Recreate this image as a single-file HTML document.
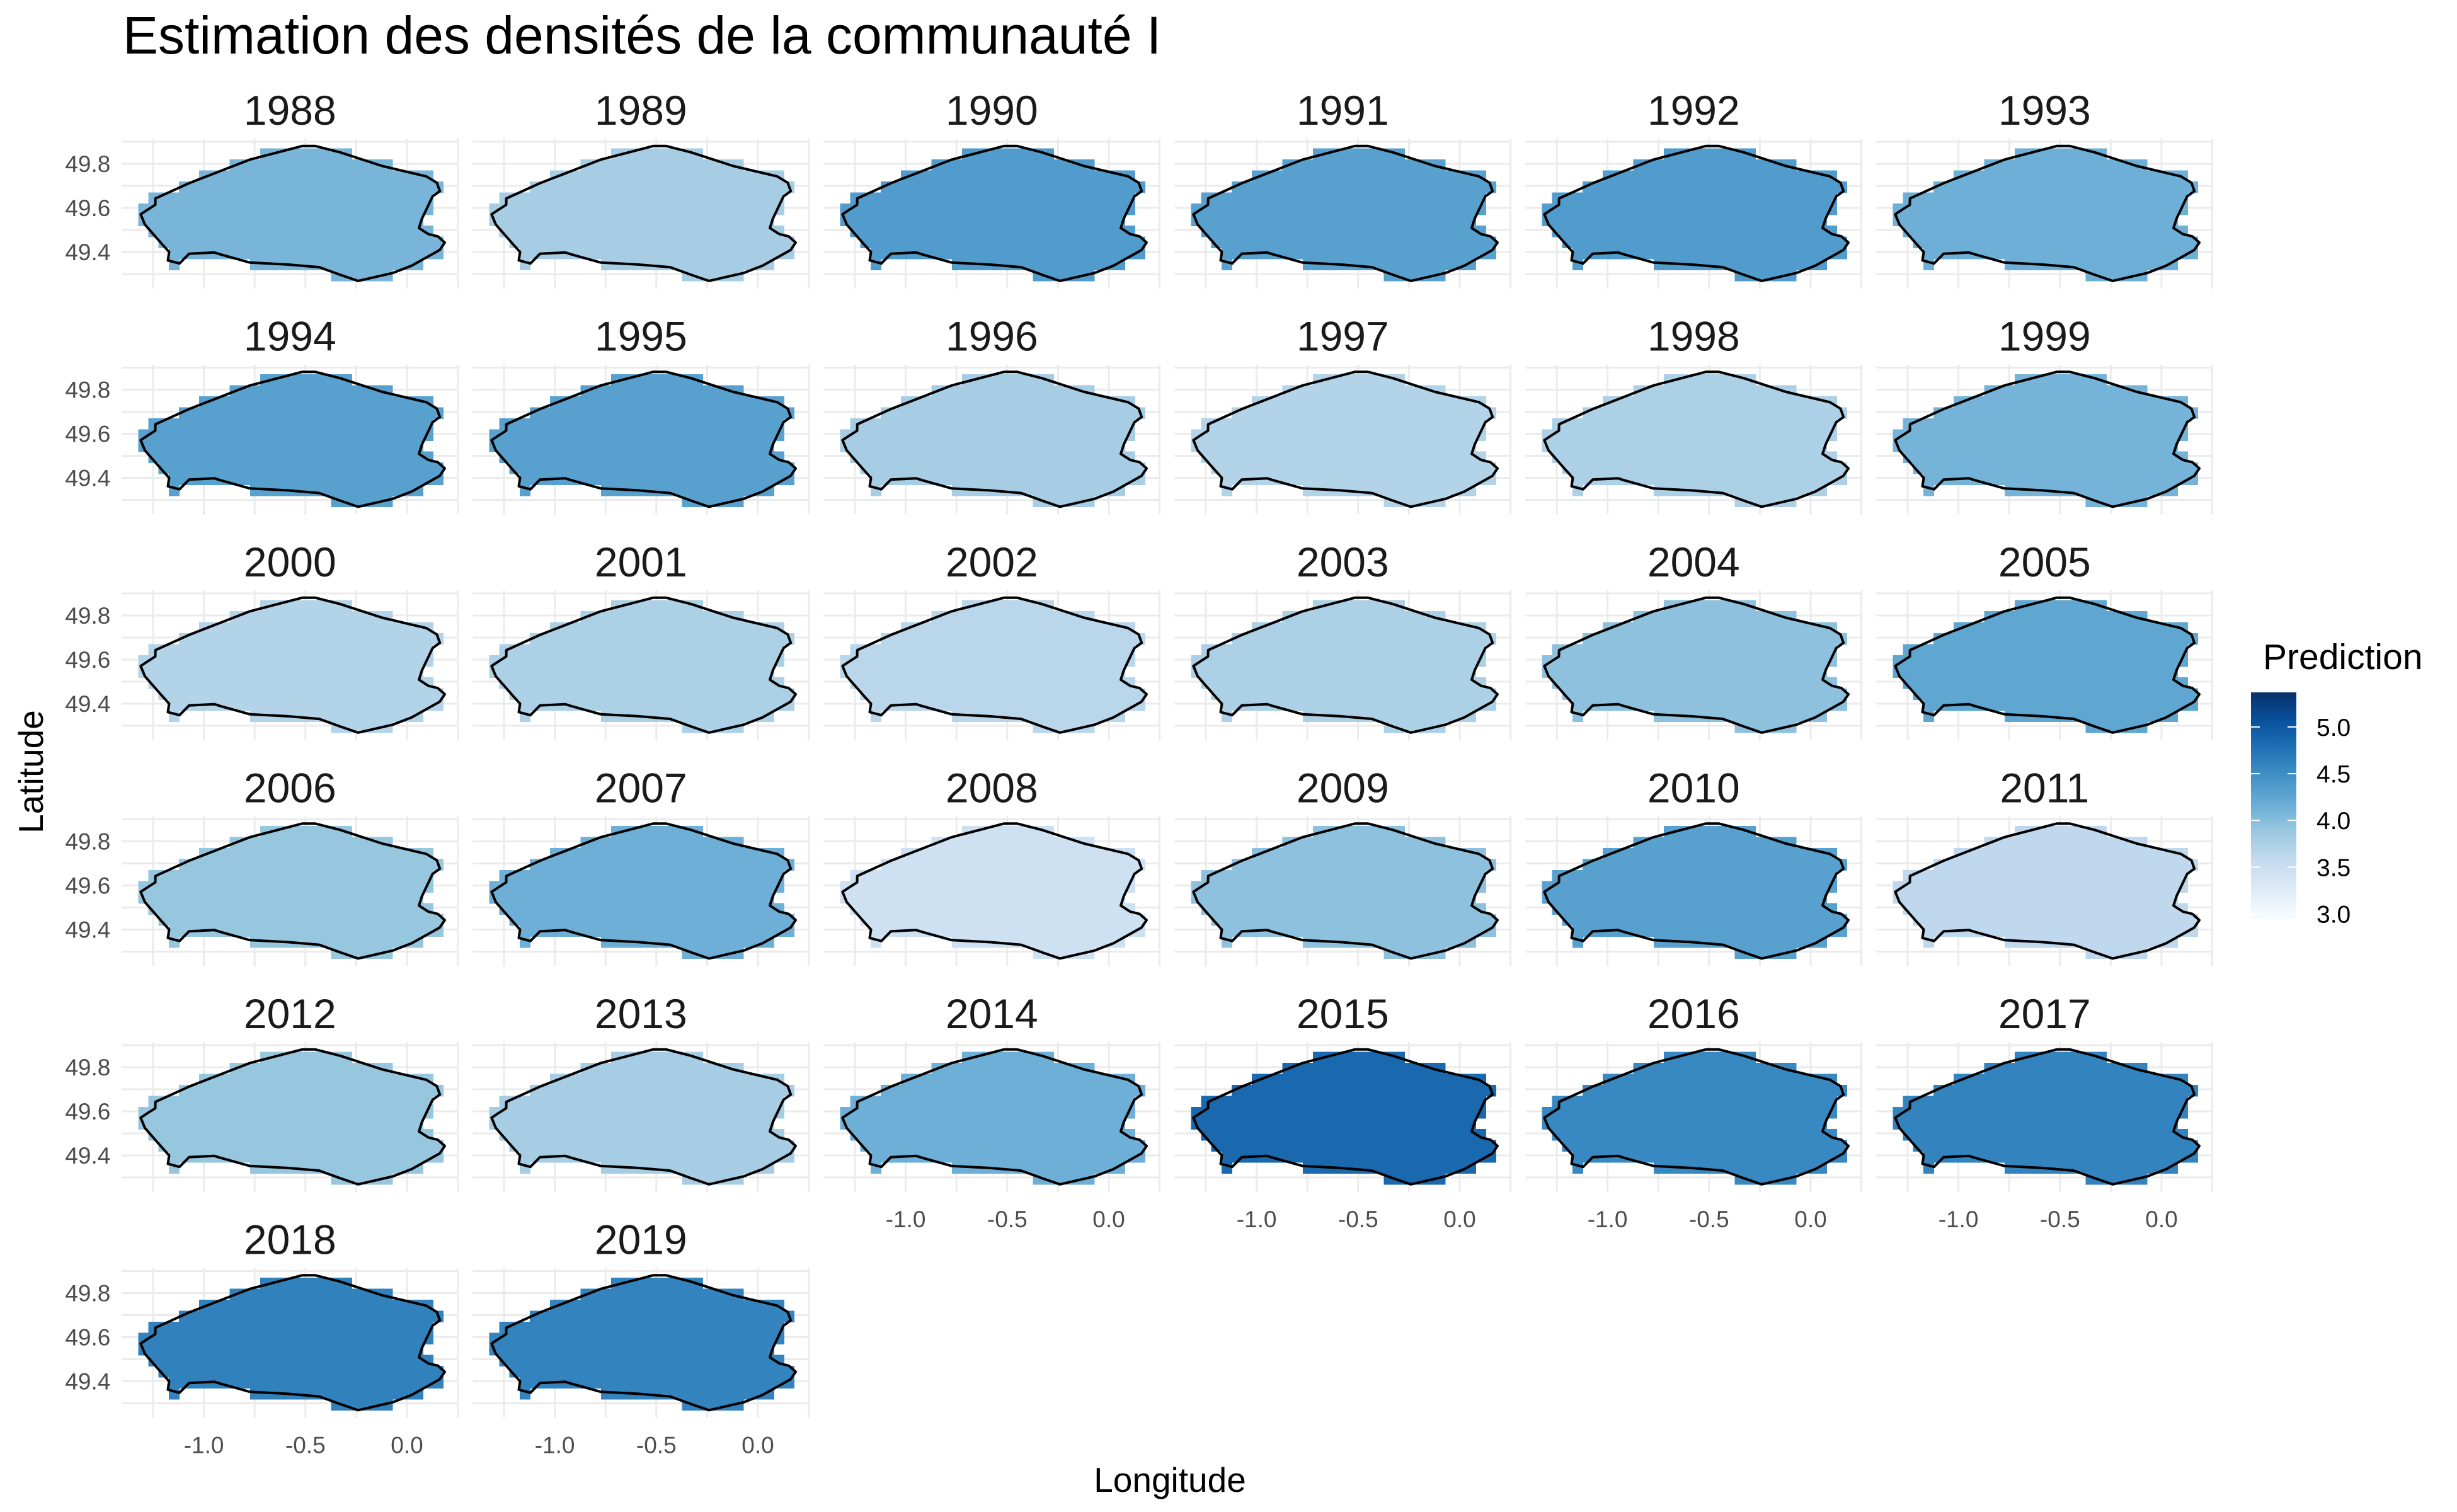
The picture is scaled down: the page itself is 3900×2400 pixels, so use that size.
<!DOCTYPE html>
<html><head><meta charset="utf-8"><title>Estimation des densités de la communauté I</title>
<style>html,body{margin:0;padding:0;background:#fff}svg{display:block}text{font-family:"Liberation Sans",Arial,sans-serif}</style>
</head><body>
<svg id="chart" xmlns="http://www.w3.org/2000/svg" width="3900" height="2400" viewBox="0 0 3900 2400">
<rect x="0" y="0" width="3900" height="2400" fill="#fff"/>
<text x="195" y="85" font-size="84" fill="#000">Estimation des densités de la communauté I</text>
<text x="1857" y="2368" font-size="55" text-anchor="middle" fill="#000">Longitude</text>
<text x="0" y="0" font-size="55" text-anchor="middle" fill="#000" transform="translate(68,1225) rotate(-90)">Latitude</text>
<g id="panels"></g>
<g id="legend"></g>
</svg>
<script>
const years = [1988,1989,1990,1991,1992,1993,1994,1995,1996,1997,1998,1999,2000,2001,2002,2003,2004,2005,2006,2007,2008,2009,2010,2011,2012,2013,2014,2015,2016,2017,2018,2019];
const yearMeans = [4.08,3.8,4.35,4.3,4.35,4.15,4.3,4.3,3.8,3.7,3.75,4.1,3.7,3.75,3.65,3.75,3.95,4.25,3.9,4.15,3.45,3.95,4.3,3.6,3.9,3.8,4.15,4.85,4.55,4.6,4.62,4.6];
const xTicks = [-1.0,-0.5,0.0];
const xTickLabels = ["-1.0","-0.5","0.0"];
const yTicks = [49.8,49.6,49.4];
const yTickLabels = ["49.8","49.6","49.4"];
const legendTicks = [5.0,4.5,4.0,3.5,3.0];
const legendTickLabels = ["5.0","4.5","4.0","3.5","3.0"];
const coastLon = [-1.2385,-1.073,-0.773,-0.515,-0.453,-0.329,-0.122,0.095,0.147,0.162,0.126,0.074,0.059,0.105,0.152,0.186,0.161,0.023,-0.070,-0.241,-0.329,-0.432,-0.587,-0.773,-0.918,-0.949,-1.073,-1.120,-1.177,-1.171,-1.208,-1.290,-1.311,-1.280,-1.239];
const coastLat = [49.643,49.712,49.819,49.881,49.881,49.852,49.790,49.743,49.714,49.676,49.652,49.552,49.509,49.481,49.471,49.443,49.409,49.338,49.305,49.269,49.297,49.331,49.343,49.352,49.389,49.398,49.392,49.348,49.362,49.400,49.438,49.524,49.571,49.590,49.614];

const NS='http://www.w3.org/2000/svg';
const vMin=2.95, vMax=5.37;
const stops=['#F7FBFF','#DEEBF7','#C6DBEF','#9ECAE1','#6BAED6','#4292C6','#2171B5','#08519C','#08306B'];
function hex(h){return [parseInt(h.slice(1,3),16),parseInt(h.slice(3,5),16),parseInt(h.slice(5,7),16)];}
function color(v){
  let t=(v-vMin)/(vMax-vMin); t=Math.max(0,Math.min(1,t));
  const p=t*(stops.length-1); const i=Math.min(Math.floor(p),stops.length-2); const f=p-i;
  const a=hex(stops[i]), b=hex(stops[i+1]);
  return 'rgb('+a.map((c,k)=>Math.round(c+(b[k]-c)*f)).join(',')+')';
}
const COLS=6, colPitch=557, rowPitch=358.5, lon0X=646, lat0Y=330, pxLon=322.4, pxLat=350;
function xs(col,lon){return lon0X+col*colPitch+lon*pxLon;}
function ys(row,lat){return lat0Y+row*rowPitch-(lat-49.6)*pxLat;}
function inside(lon,lat){
  let c=false;
  for(let i=0,j=coastLon.length-1;i<coastLon.length;j=i++){
    const xi=coastLon[i],yi=coastLat[i],xj=coastLon[j],yj=coastLat[j];
    if(((yi>lat)!==(yj>lat))&&(lon<(xj-xi)*(lat-yi)/(yj-yi)+xi)) c=!c;
  }
  return c;
}
function tileIn(clon,clat){
  if(inside(clon,clat)) return true;
  const d=0.01;
  return inside(clon-d,clat-d)||inside(clon+d,clat-d)||inside(clon-d,clat+d)||inside(clon+d,clat+d);
}
function mk(tag,attrs,parent){const e=document.createElementNS(NS,tag);for(const k in attrs)e.setAttribute(k,attrs[k]);parent.appendChild(e);return e;}
const panels=document.getElementById('panels');
years.forEach((yr,idx)=>{
  const col=idx%COLS,row=Math.floor(idx/COLS);
  const g=mk('g',{},panels);
  
  
  const left=xs(col,-1.404), right=xs(col,0.252), top=ys(row,49.914), bot=ys(row,49.234);
  for(let lat=49.3;lat<49.95;lat+=0.1){
    const l=mk('line',{x1:left,x2:right,y1:ys(row,lat),y2:ys(row,lat),stroke:'#EBEBEB','stroke-width':3},g);
    
    
  }
  for(let lon=-1.25;lon<0.3;lon+=0.25){
    const l=mk('line',{x1:xs(col,lon),x2:xs(col,lon),y1:top,y2:bot,stroke:'#EBEBEB','stroke-width':3},g);
    
    
  }
  const fill=color(yearMeans[idx]);
  for(let i=0;i<32;i++){
    for(let j=0;j<13;j++){
      const clon=-1.348+0.05*i, clat=49.845-0.05*j;
      if(!tileIn(clon,clat)) continue;
      const r=mk('rect',{x:xs(col,clon-0.025),y:ys(row,clat+0.025),width:0.05*pxLon+1,height:0.05*pxLat+1,fill:fill,'shape-rendering':'crispEdges'},g);
      
      
    }
  }
  const pts=coastLon.map((lo,k)=>xs(col,lo).toFixed(1)+','+ys(row,coastLat[k]).toFixed(1)).join(' ');
  const poly=mk('polygon',{points:pts,fill:'none',stroke:'#000','stroke-width':4,'stroke-linejoin':'round'},g);
  
  
  const t=mk('text',{x:(left+right)/2,y:ys(row,49.6)-132,'font-size':66,'text-anchor':'middle',fill:'#1a1a1a'},g);
  t.textContent=yr;
  
  
  if(col===0){
    yTicks.forEach((v,k)=>{
      const tl=mk('text',{x:left-18,y:ys(row,v)+13,'font-size':37,'text-anchor':'end',fill:'#4D4D4D'},g);
      tl.textContent=yTickLabels[k];
      
      
    });
  }
  if(idx+COLS>=years.length){
    xTicks.forEach((v,k)=>{
      const tl=mk('text',{x:xs(col,v),y:ys(row,49.6)+184,'font-size':37,'text-anchor':'middle',fill:'#4D4D4D'},g);
      tl.textContent=xTickLabels[k];
      
      
    });
  }
});
const lg=document.getElementById('legend');
const defs=mk('defs',{},lg);
const grad=mk('linearGradient',{id:'lgGrad',x1:0,y1:1,x2:0,y2:0},defs);
stops.forEach((s,i)=>mk('stop',{offset:(i/(stops.length-1)).toFixed(3),'stop-color':s},grad));
const barTop=1099, barBot=1458, barX=3573, barW=72;
const lt=mk('text',{x:3592,y:1062,'font-size':57,fill:'#000'},lg);
lt.textContent='Prediction';


const bar=mk('rect',{x:barX,y:barTop,width:barW,height:barBot-barTop,fill:'url(#lgGrad)'},lg);


function ly(v){return barBot-(v-vMin)/(vMax-vMin)*(barBot-barTop);}
legendTicks.forEach((v,k)=>{
  const y=ly(v);
  const a=mk('line',{x1:barX,x2:barX+14,y1:y,y2:y,stroke:'#fff','stroke-width':2},lg);
  
  
  const b=mk('line',{x1:barX+barW-14,x2:barX+barW,y1:y,y2:y,stroke:'#fff','stroke-width':2},lg);
  
  
  const tl=mk('text',{x:3677,y:y+14,'font-size':39,fill:'#000'},lg);
  tl.textContent=legendTickLabels[k];
  
  
});
</script>
</body></html>
